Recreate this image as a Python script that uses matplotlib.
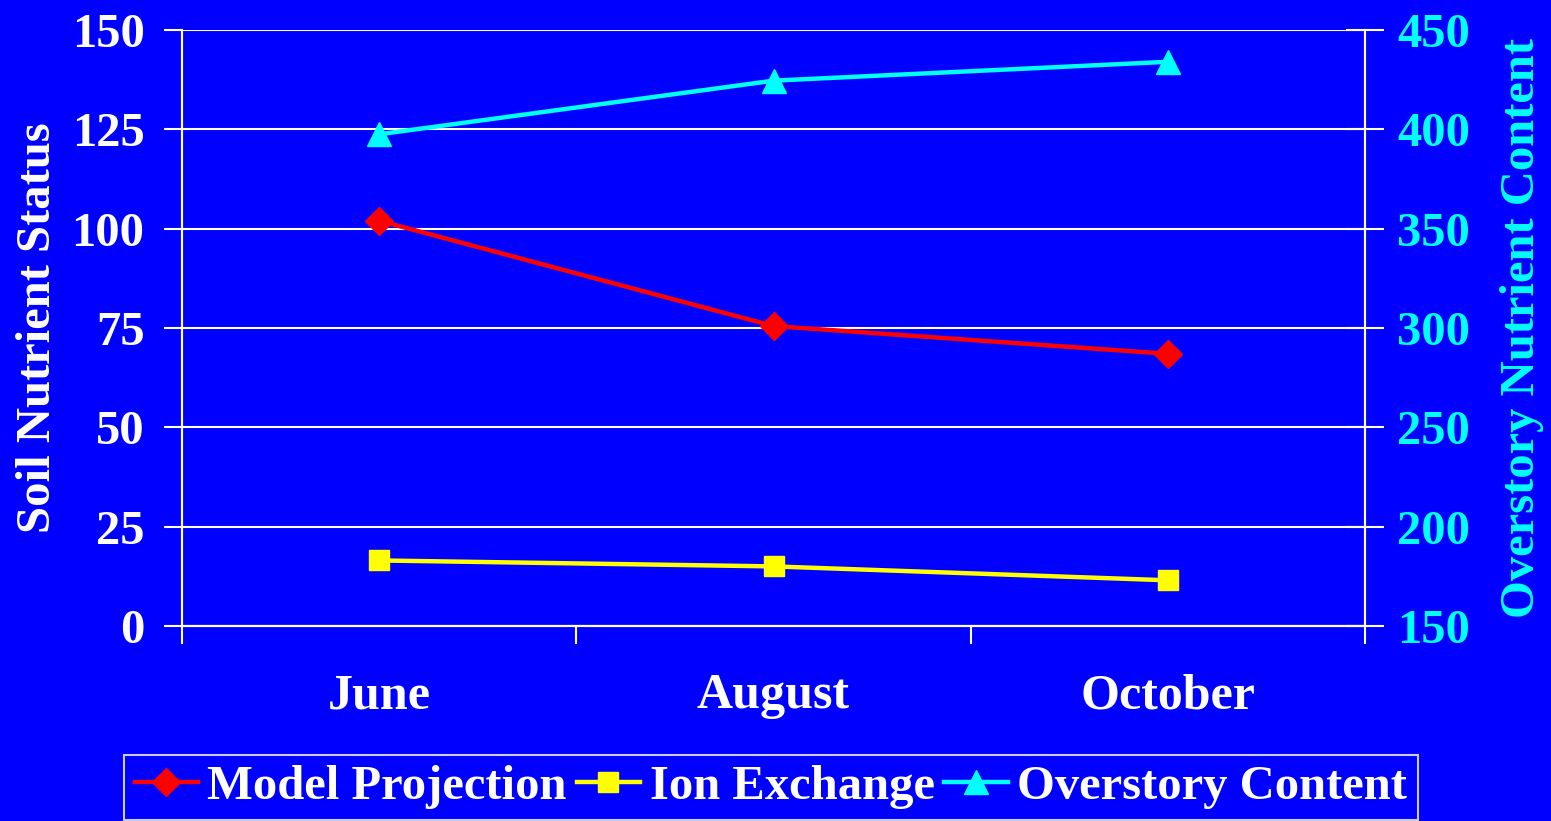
import numpy as np
import matplotlib.pyplot as plt

# data
months = ["June", "August", "October"]
model_projection = [102, 75.5, 68.5]
ion_exchange = [16.5, 15, 11.5]
overstory_content = [397.5, 424.5, 434]

left_ticks = [0, 25, 50, 75, 100, 125, 150]
right_ticks = [150, 200, 250, 300, 350, 400, 450]

BG = "#0000FF"
plt.rcParams['font.family'] = ['Liberation Serif', 'DejaVu Serif']
plt.rcParams['font.weight'] = 'bold'
plt.rcParams['axes.labelweight'] = 'bold'

fig = plt.figure(figsize=(15.51, 8.21), dpi=100, facecolor=BG)
ax = fig.add_axes([182/1551, 1 - 626/821, (1365-182)/1551, (626-30)/821])
ax.set_facecolor(BG)
ax2 = ax.twinx()

x = np.arange(len(months)) + 0.5

l1, = ax.plot(x, model_projection, color="#FF0000", lw=3.2, marker="D", ms=14,
              label="Model Projection", clip_on=False, zorder=5)
l2, = ax.plot(x, ion_exchange, color="#FFFF00", lw=3.2, marker="s", ms=14,
              label="Ion Exchange", clip_on=False, zorder=5)
l3, = ax2.plot(x, overstory_content, color="#00FFFF", lw=3.2, marker="^", ms=17,
               label="Overstory Content", clip_on=False, zorder=5)

ax.set_xlim(0, 3)
ax.set_ylim(0, 150)
ax2.set_ylim(150, 450)
ax.set_yticks(left_ticks)
ax2.set_yticks(right_ticks)

# category boundaries as ticks, labels centred
ax.set_xticks([0, 1, 2, 3])
ax.set_xticklabels([])
ax.set_xticks(x, minor=True)
ax.set_xticklabels(months, minor=True)
ax.tick_params(axis="x", which="minor", length=0, pad=34, labelsize=36, labelcolor="white")
ax.tick_params(axis="x", which="major", direction="out", length=13, width=1.5, color="white")

ax.tick_params(axis="y", direction="out", length=13, width=1.5, color="white",
               labelsize=35, labelcolor="white", pad=14)
ax2.tick_params(axis="y", direction="inout", length=28, width=1.5, color="white",
                labelsize=35, labelcolor="#00FFFF", pad=9)

ax.yaxis.grid(True, color="white", lw=1.5)
ax.set_axisbelow(True)

for a in (ax, ax2):
    a.spines["top"].set_visible(False)
    for s in ("left", "right", "bottom"):
        a.spines[s].set_color("white")
        a.spines[s].set_linewidth(1.5)

ax.set_ylabel("Soil Nutrient Status", color="white", fontsize=35, labelpad=8)
ax2.set_ylabel("Overstory Nutrient Content", color="#00FFFF", fontsize=35, labelpad=22)

leg = fig.legend(handles=[l1, l2, l3], loc="lower center", bbox_to_anchor=(0.497, 0.001),
                 ncol=3, frameon=True, fancybox=False, fontsize=35,
                 handlelength=1.3, handletextpad=0.2, columnspacing=0.2,
                 borderpad=0.22, borderaxespad=0, labelcolor="white")
leg.get_frame().set_facecolor(BG)
leg.get_frame().set_edgecolor("white")
leg.get_frame().set_linewidth(1.5)

fig.savefig("out.png", dpi=100, facecolor=BG)
